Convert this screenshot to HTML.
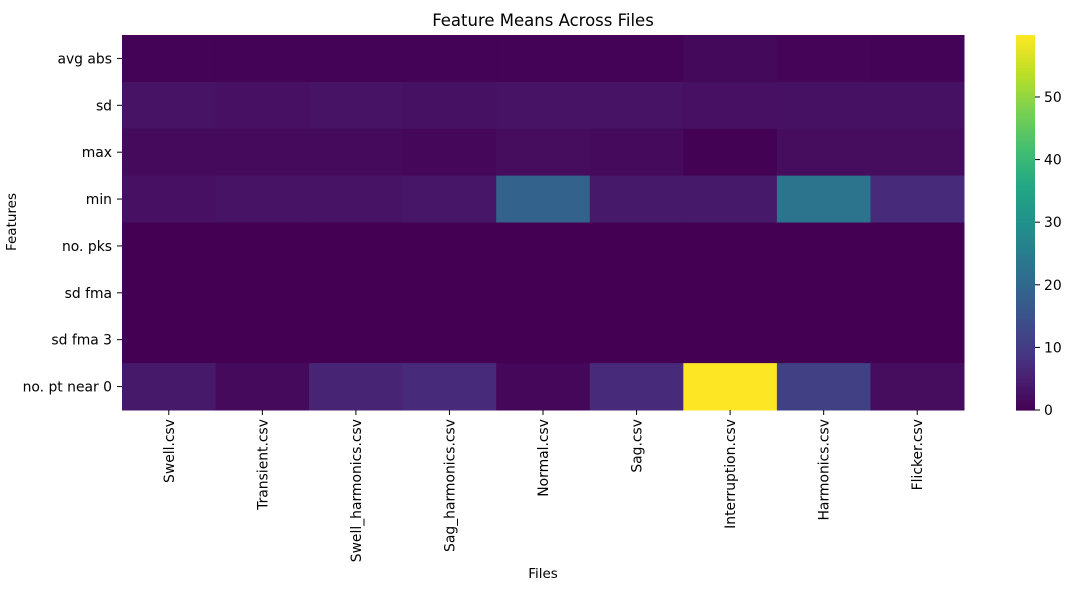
<!DOCTYPE html>
<html><head><meta charset="utf-8">
<style>
body{margin:0;background:#fff;}
svg{display:block;font-family:"DejaVu Sans","Liberation Sans",sans-serif;}
</style></head>
<body>
<svg id="chart" width="1082" height="595" viewBox="0 0 1082 595">
<text x="543" y="26" text-anchor="middle" font-size="16.5" fill="#000">Feature Means Across Files</text>
<text x="543" y="578" text-anchor="middle" font-size="13.5" fill="#000">Files</text>
<text transform="translate(16,222) rotate(-90)" text-anchor="middle" font-size="13.5" fill="#000">Features</text>
<g id="cells"></g><g id="labels"></g><g id="cbar"></g>
</svg>
<script>
const files=["Swell.csv","Transient.csv","Swell_harmonics.csv","Sag_harmonics.csv","Normal.csv","Sag.csv","Interruption.csv","Harmonics.csv","Flicker.csv"];
const features=["avg abs","sd","max","min","no. pks","sd fma","sd fma 3","no. pt near 0"];
const rowAvgAbs=[0.3,0.3,0.3,0.3,0.4,0.4,1.3,0.5,0.4];
const rowSd=[3,2.5,3,2.6,3,3,2.5,2.6,2.6];
const rowMax=[1.5,1.5,1.5,1,2,1.5,0.2,2,2];
const rowMin=[2.5,3,3,3.5,19,4,4,23,7];
const rowPks=[0,0,0,0,0,0,0,0,0];
const rowSdFma=[0,0,0,0,0,0,0,0,0];
const rowSdFma3=[0,0,0,0,0,0,0,0,0];
const rowNear0=[4,1.5,6,7,1,7,59.9,11,2];
const values=[rowAvgAbs,rowSd,rowMax,rowMin,rowPks,rowSdFma,rowSdFma3,rowNear0];
const cbTicks=[0,10,20,30,40,50];
const vmax=59.9;
const NS="http://www.w3.org/2000/svg";
const L=122,R=964,T=35,B=410;
const FS="13.9";
const cw=(R-L)/files.length, ch=(B-T)/features.length;
const stops=[[0,"#440154"],[0.05,"#471365"],[0.1,"#482475"],[0.15,"#453781"],[0.2,"#414487"],[0.3,"#355f8d"],[0.4,"#2a788e"],[0.5,"#21918c"],[0.6,"#22a884"],[0.7,"#44bf70"],[0.8,"#7ad151"],[0.9,"#bddf26"],[1,"#fde725"]];
function hex(h){return [1,3,5].map(i=>parseInt(h.substr(i,2),16));}
function viridis(t){t=Math.max(0,Math.min(1,t));for(let i=1;i<stops.length;i++){if(t<=stops[i][0]){const a=stops[i-1],b=stops[i];const f=(t-a[0])/(b[0]-a[0]);const ca=hex(a[1]),cb=hex(b[1]);return "rgb("+ca.map((v,k)=>Math.round(v+(cb[k]-v)*f)).join(",")+")";}}return stops[stops.length-1][1];}
function xPos(i){return L+i*cw;}
function yPos(j){return T+j*ch;}
const cells=document.getElementById("cells"),labels=document.getElementById("labels"),cbar=document.getElementById("cbar");
values.forEach((row,j)=>row.forEach((v,i)=>{
 const r=document.createElementNS(NS,"rect");
 r.setAttribute("x",xPos(i));r.setAttribute("y",yPos(j));r.setAttribute("width",cw+0.5);r.setAttribute("height",ch+0.5);
 r.setAttribute("fill",viridis(v/vmax));
 
 
 cells.appendChild(r);
}));
features.forEach((f,j)=>{
 const y=yPos(j)+ch/2;
 const tk=document.createElementNS(NS,"line");
 tk.setAttribute("x1",117);tk.setAttribute("x2",L);tk.setAttribute("y1",y);tk.setAttribute("y2",y);tk.setAttribute("stroke","#000");
 
 
 labels.appendChild(tk);
 const t=document.createElementNS(NS,"text");
 t.setAttribute("x",112);t.setAttribute("y",y+5);t.setAttribute("text-anchor","end");t.setAttribute("font-size",FS);t.textContent=f;
 
 
 labels.appendChild(t);
});
files.forEach((f,i)=>{
 const x=xPos(i)+cw/2;
 const tk=document.createElementNS(NS,"line");
 tk.setAttribute("x1",x);tk.setAttribute("x2",x);tk.setAttribute("y1",B);tk.setAttribute("y2",B+5);tk.setAttribute("stroke","#000");
 
 
 labels.appendChild(tk);
 const t=document.createElementNS(NS,"text");
 t.setAttribute("transform","translate("+(x+5)+","+(B+9)+") rotate(-90)");t.setAttribute("text-anchor","end");t.setAttribute("font-size",FS);t.textContent=f;
 
 
 labels.appendChild(t);
});
const CL=1016,CR=1035;
for(let k=0;k<150;k++){
 const r=document.createElementNS(NS,"rect");
 const h=(B-T)/150;
 r.setAttribute("x",CL);r.setAttribute("y",B-(k+1)*h);r.setAttribute("width",CR-CL);r.setAttribute("height",h+0.6);
 r.setAttribute("fill",viridis((k+0.5)/150));
 
 
 cbar.appendChild(r);
}
cbTicks.forEach(v=>{
 const y=B-(v/vmax)*(B-T);
 const tk=document.createElementNS(NS,"line");
 tk.setAttribute("x1",CR);tk.setAttribute("x2",CR+5);tk.setAttribute("y1",y);tk.setAttribute("y2",y);tk.setAttribute("stroke","#000");
 
 
 cbar.appendChild(tk);
 const t=document.createElementNS(NS,"text");
 t.setAttribute("x",CR+9);t.setAttribute("y",y+5);t.setAttribute("font-size",FS);t.textContent=v;
 
 
 cbar.appendChild(t);
});
</script>
</body></html>
